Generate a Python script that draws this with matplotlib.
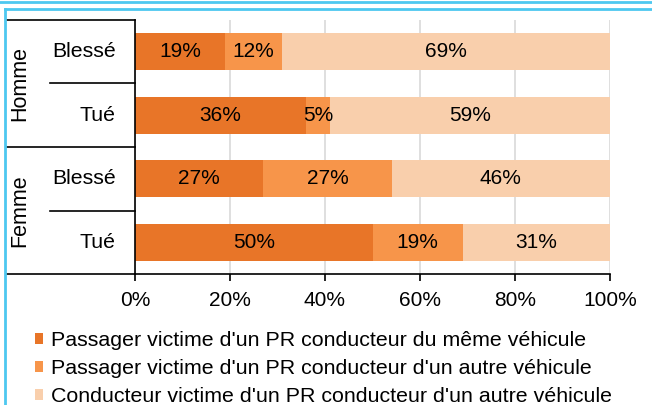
import numpy as np
import matplotlib.pyplot as plt
from matplotlib.lines import Line2D

plt.rcParams['font.family'] = ['Liberation Sans', 'DejaVu Sans']
plt.rcParams['font.size'] = 15

# Données
groupes = ['Homme', 'Femme']
categories = ['Blessé', 'Tué', 'Blessé', 'Tué']
meme_vehicule = [19, 36, 27, 50]
autre_passager = [12, 5, 27, 19]
autre_conducteur = [69, 59, 46, 31]
series_noms = ["Passager victime d'un PR conducteur du même véhicule",
               "Passager victime d'un PR conducteur d'un autre véhicule",
               "Conducteur victime d'un PR conducteur d'un autre véhicule"]
couleurs = ['#E87528', '#F7954A', '#F9CFAC']
graduations = [0, 20, 40, 60, 80, 100]

fig = plt.figure(figsize=(6.52, 4.05), dpi=100)
W, H = 652, 405
ax = fig.add_axes([135 / W, 1 - 274 / H, 475 / W, 254 / H])

y = np.arange(len(categories))
gauche = np.zeros(len(categories))
barres = []
for vals, c, nom in zip([meme_vehicule, autre_passager, autre_conducteur], couleurs, series_noms):
    b = ax.barh(y, vals, left=gauche, height=0.58, color=c, label=nom, zorder=2)
    barres.append(b)
    for yi, g, v in zip(y, gauche, vals):
        ax.text(g + v / 2, yi, f"{v}%", ha='center', va='center', fontsize=15, zorder=3)
    gauche = gauche + np.array(vals)

ax.set_xlim(0, 100)
ax.set_ylim(3.5, -0.5)
ax.set_xticks(graduations)
ax.set_xticklabels([f"{t}%" for t in graduations])
ax.set_yticks([])
ax.tick_params(axis='x', direction='out', length=5, width=1.2, pad=7, labelsize=15)
ax.grid(axis='x', color='#D9D9D9', linewidth=1.2, zorder=0)
ax.set_axisbelow(True)
for s in ['top', 'right']:
    ax.spines[s].set_visible(False)
ax.spines['left'].set_linewidth(1.2)
ax.spines['bottom'].set_linewidth(1.2)

# tableau des catégories à gauche
x_ext = (7 - 135) / 475
x_int = (50 - 135) / 475
for yy, x0 in [(1.0, x_ext), (0.75, x_int), (0.5, x_ext), (0.25, x_int), (0.0, x_ext)]:
    ax.add_line(Line2D([x0, 0], [yy, yy], transform=ax.transAxes, color='black',
                       linewidth=1.2, clip_on=False))
for yi, cat in zip(y, categories):
    ax.text((116 - 135) / 475, 1 - (yi + 0.5) / 4, cat, transform=ax.transAxes,
            ha='right', va='center', fontsize=15.3)
for i, g in enumerate(groupes):
    ax.text((20 - 135) / 475, 1 - (i * 2 + 1) / 4, g, transform=ax.transAxes,
            ha='center', va='center', rotation=90, fontsize=15.5)

# légende
fig.legend(handles=barres, loc='upper left', bbox_to_anchor=(35 / W, 1 - 331 / H),
           frameon=False, handlelength=0.38, handleheight=0.38, handletextpad=0.37,
           labelspacing=0.42, borderaxespad=0, borderpad=0, fontsize=15.4)

# cadre bleu
bleu = '#4DC8F0'
fig.add_artist(Line2D([0, 1], [1 - 1.5 / H, 1 - 1.5 / H], color=bleu, linewidth=2))
fig.add_artist(Line2D([5 / W, 1], [1 - 8.5 / H, 1 - 8.5 / H], color=bleu, linewidth=2))
fig.add_artist(Line2D([5 / W, 5 / W], [0, 1 - 8.5 / H], color=bleu, linewidth=2))

fig.savefig('out.png', dpi=100)
